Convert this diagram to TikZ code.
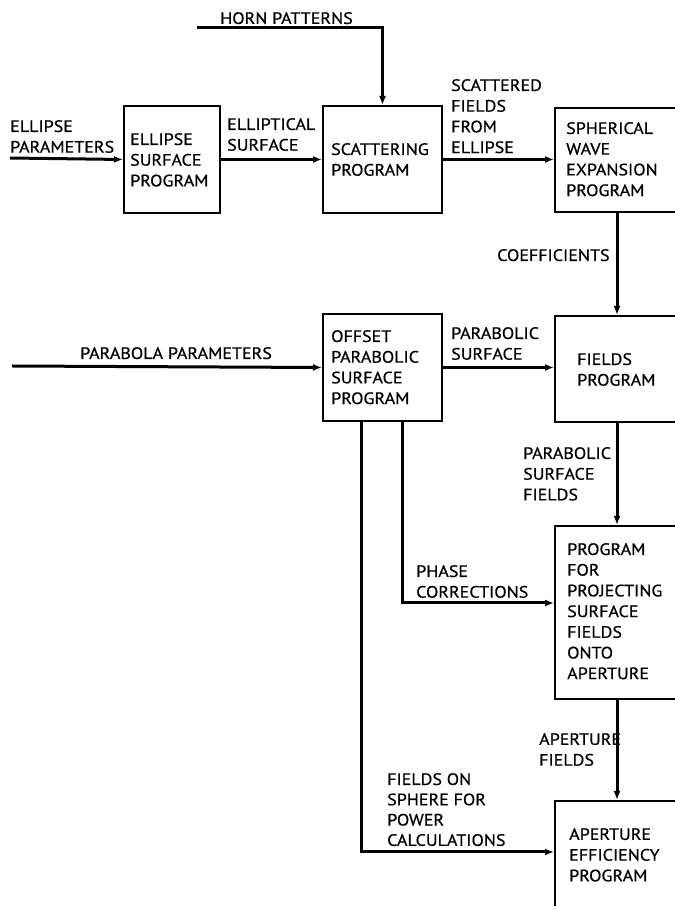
\documentclass[tikz,border=0pt]{standalone}
\usepackage{fontspec}
\setmainfont[FakeStretch=1.09,FakeBold=0.7]{PT Sans}
\usetikzlibrary{arrows.meta}
\begin{document}
\begin{tikzpicture}[x=1pt,y=1pt,
  box/.style={draw, line width=2pt, rectangle, anchor=north west, inner sep=0pt},
  arr/.style={line width=3pt, -{Latex[length=9pt,width=7pt]}},
  lbl/.style={anchor=north west, inner sep=0pt, align=left, font=\fontsize{16.5}{20.7}\selectfont}]
\clip (0,0) rectangle (675,906);
% boxes
\node[box, minimum width=96pt, minimum height=107pt] (B1) at (123,801) {};
\node[box, minimum width=119pt, minimum height=107pt] (B2) at (322,801) {};
\node[box, minimum width=150pt, minimum height=104pt] (B3) at (554,799) {};
\node[box, minimum width=119pt, minimum height=107pt] (B4) at (322,593) {};
\node[box, minimum width=150pt, minimum height=106pt] (B5) at (554,591) {};
\node[box, minimum width=150pt, minimum height=173pt] (B6) at (554,381) {};
\node[box, minimum width=150pt, minimum height=130pt] (B7) at (554,106) {};
% helper coordinates
\coordinate (ep) at (10,748);
\coordinate (hp) at (197,878);
\coordinate (colR) at (617,0);
\coordinate (pp) at (12,540);
\coordinate (pc) at (402,303);
\coordinate (fs) at (361,54);
% connectors
\draw[arr] (ep) -- (B1.west);
\draw[arr] (B1.east) -- (B2.west);
\draw[arr] (B2.east) -- (B2.east -| B3.west);
\draw[arr] (hp) -| (B2.north);
\draw[arr] (B3.south -| colR) -- (B5.north -| colR);
\draw[arr] (pp) -- (B4.west);
\draw[arr] (B4.east) -- (B4.east -| B5.west);
\draw[arr] (B5.south -| colR) -- (B6.north -| colR);
\draw[arr] (B4.south -| pc) |- (pc -| B6.west);
\draw[arr] (B4.south -| fs) |- (fs -| B7.west);
\draw[arr] (B6.south -| colR) -- (B7.north -| colR);
% texts
\node[lbl] (t1) at (10,786) {ELLIPSE\\PARAMETERS};
\node[lbl] (t2) at (130,773) {ELLIPSE\\SURFACE\\PROGRAM};
\node[lbl] (t3) at (227,788) {ELLIPTICAL\\SURFACE};
\node[lbl] (t4) at (220,894) {HORN PATTERNS};
\node[lbl] (t5) at (331,763) {SCATTERING\\PROGRAM};
\node[lbl] (t6) at (451,827) {SCATTERED\\FIELDS\\FROM\\ELLIPSE};
\node[lbl] (t7) at (566,784) {SPHERICAL\\WAVE\\EXPANSION\\PROGRAM};
\node[lbl] (t8) at (497,657) {COEFFICIENTS};
\node[lbl] (t9) at (80,559) {PARABOLA PARAMETERS};
\node[lbl] (t10) at (331,576) {OFFSET\\PARABOLIC\\SURFACE\\PROGRAM};
\node[lbl] (t11) at (451,579) {PARABOLIC\\SURFACE};
\node[lbl] (t12) at (577,553) {FIELDS\\PROGRAM};
\node[lbl] (t13) at (523,459) {PARABOLIC\\SURFACE\\FIELDS};
\node[lbl] (t14) at (567,363) {PROGRAM\\FOR\\PROJECTING\\SURFACE\\FIELDS\\ONTO\\APERTURE};
\node[lbl] (t15) at (416,341) {PHASE\\CORRECTIONS};
\node[lbl] (t16) at (539,173) {APERTURE\\FIELDS};
\node[lbl, font=\fontsize{16.5}{20.3}\selectfont] (t17) at (387,133) {FIELDS ON\\SPHERE FOR\\POWER\\CALCULATIONS};
\node[lbl] (t18) at (569,78) {APERTURE\\EFFICIENCY\\PROGRAM};
\end{tikzpicture}
\end{document}
